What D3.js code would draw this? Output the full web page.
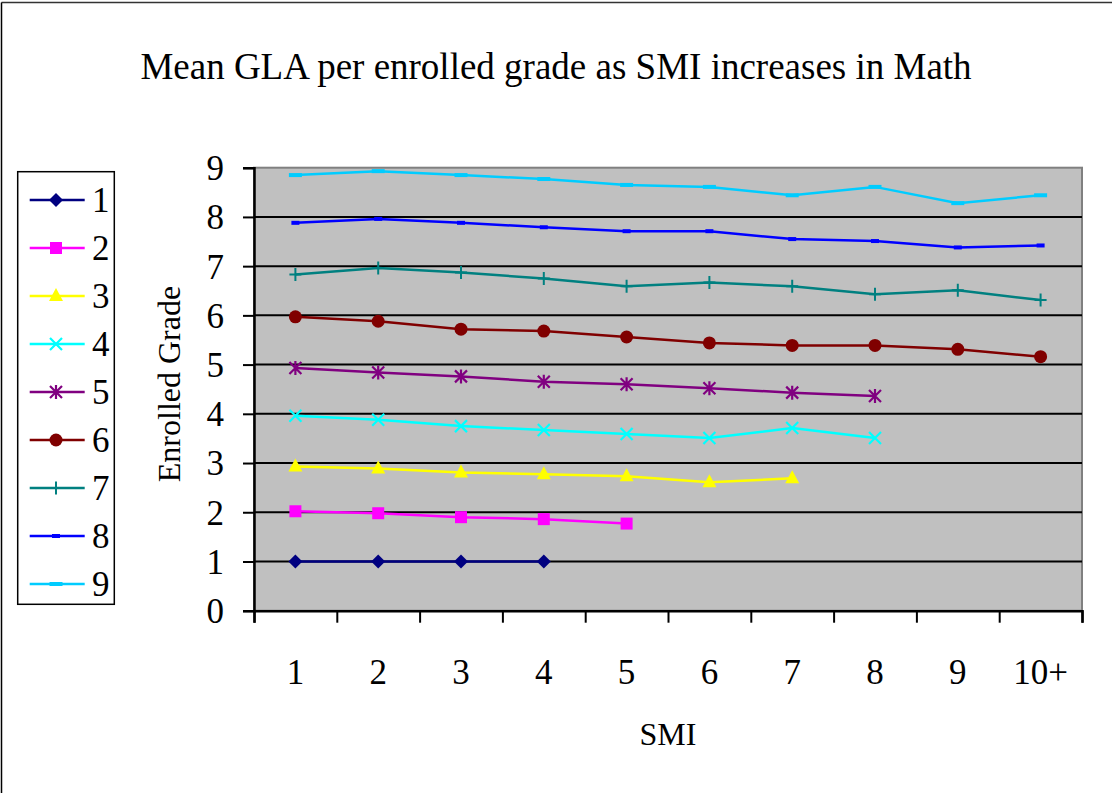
<!DOCTYPE html>
<html>
<head>
<meta charset="utf-8">
<script src="https://cdn.jsdelivr.net/npm/d3@7"></script>
<style>
  body { margin: 0; background: #fff; }
  text { font-family: "Liberation Serif", "Times New Roman", serif; fill: #000; }
</style>
</head>
<body>
<script>
// categories on the x axis (SMI)
var smi = ["1", "2", "3", "4", "5", "6", "7", "8", "9", "10+"];
var yTicks = [0, 1, 2, 3, 4, 5, 6, 7, 8, 9];
var grades = ["1", "2", "3", "4", "5", "6", "7", "8", "9"];

// mean GLA per enrolled grade, one value per SMI (null = no point)
var grade1 = [1.00, 1.00, 1.00, 1.00, null, null, null, null, null, null];
var grade2 = [2.02, 1.98, 1.90, 1.86, 1.77, null, null, null, null, null];
var grade3 = [2.93, 2.89, 2.81, 2.77, 2.73, 2.61, 2.69, null, null, null];
var grade4 = [3.96, 3.88, 3.75, 3.67, 3.59, 3.51, 3.71, 3.51, null, null];
var grade5 = [4.93, 4.84, 4.76, 4.65, 4.60, 4.52, 4.43, 4.36, null, null];
var grade6 = [5.97, 5.88, 5.72, 5.68, 5.56, 5.44, 5.39, 5.39, 5.31, 5.16];
var grade7 = [6.83, 6.96, 6.87, 6.75, 6.59, 6.67, 6.59, 6.43, 6.51, 6.31];
var grade8 = [7.88, 7.96, 7.88, 7.79, 7.71, 7.71, 7.55, 7.51, 7.38, 7.42];
var grade9 = [8.85, 8.93, 8.85, 8.77, 8.65, 8.61, 8.44, 8.61, 8.28, 8.44];

var colors = ["#000080", "#FF00FF", "#FFFF00", "#00FFFF", "#800080", "#800000", "#008080", "#0000FF", "#00CCFF"];
var markers = ["diamond", "square", "triangle", "x", "star", "circle", "plus", "dash", "bar"];

(function drawChart() {

var series = [grade1, grade2, grade3, grade4, grade5, grade6, grade7, grade8, grade9].map(function (vals, i) {
  return { name: grades[i], color: colors[i], marker: markers[i],
    points: vals.map(function (v, j) { return { cat: smi[j], v: v }; }) };
});

var W = 1112, H = 793;
var svg = d3.select("body").append("svg").attr("width", W).attr("height", H);

// chart border: only the top and left edges show in the picture
svg.append("line").attr("x1", 1.5).attr("x2", W).attr("y1", 2.5).attr("y2", 2.5)
  .attr("stroke", "#333").attr("stroke-width", 1.5);
svg.append("line").attr("x1", 1.5).attr("x2", 1.5).attr("y1", 2.5).attr("y2", H)
  .attr("stroke", "#000").attr("stroke-width", 1.5);

var plotLeft = 254, plotRight = 1082, plotTop = 167.7, plotBottom = 610.7;

var x = d3.scaleBand().domain(smi).range([plotLeft, plotRight]);
var xEdge = d3.scaleLinear().domain([0, smi.length]).range([plotLeft, plotRight]);
var y = d3.scaleLinear().domain([0, 9]).range([plotBottom, plotTop]);

// plot area
svg.append("rect").attr("x", plotLeft).attr("y", plotTop)
  .attr("width", plotRight - plotLeft).attr("height", plotBottom - plotTop)
  .attr("fill", "#C0C0C0").attr("stroke", "#808080").attr("stroke-width", 2);

// gridlines
svg.append("g").selectAll("line").data(yTicks.filter(function (d) { return d > 0 && d < 9; }))
  .enter().append("line")
  .attr("x1", plotLeft).attr("x2", plotRight)
  .attr("y1", function (d) { return y(d); }).attr("y2", function (d) { return y(d); })
  .attr("stroke", "#000").attr("stroke-width", 2);

// y axis
var yAxis = svg.append("g").attr("transform", "translate(" + plotLeft + ",0)")
  .call(d3.axisLeft(y).tickValues(yTicks).tickSize(11).tickPadding(19).tickFormat(d3.format("d")));
yAxis.select(".domain").attr("stroke", "#000").attr("stroke-width", 2.5);
yAxis.selectAll(".tick line").attr("stroke", "#000").attr("stroke-width", 2);
yAxis.selectAll("text").attr("font-family", null).attr("font-size", null)
  .style("font-size", "35px").attr("dy", "0.34em");

// x axis: ticks on category edges, labels in the middle
var xTickAxis = svg.append("g").attr("transform", "translate(0," + plotBottom + ")")
  .call(d3.axisBottom(xEdge).ticks(smi.length).tickSize(12).tickFormat(""));
xTickAxis.select(".domain").attr("stroke", "#000").attr("stroke-width", 2.5);
xTickAxis.selectAll(".tick line").attr("stroke", "#000").attr("stroke-width", 2);

var xLabelAxis = svg.append("g").attr("transform", "translate(0," + plotBottom + ")")
  .call(d3.axisBottom(x).tickSize(0).tickPadding(48));
xLabelAxis.select(".domain").remove();
xLabelAxis.selectAll("text").attr("font-family", null).attr("font-size", null)
  .style("font-size", "35px");

// marker drawing
function drawMarker(sel, type, color) {
  if (type === "diamond") {
    sel.append("path").attr("d", "M0,-7L7,0L0,7L-7,0Z").attr("fill", color);
  } else if (type === "square") {
    sel.append("rect").attr("x", -6).attr("y", -6).attr("width", 12).attr("height", 12).attr("fill", color);
  } else if (type === "triangle") {
    sel.append("path").attr("d", "M0,-8L7,5L-7,5Z").attr("fill", color);
  } else if (type === "x") {
    sel.append("path").attr("d", "M-6,-6L6,6M-6,6L6,-6").attr("stroke", color).attr("stroke-width", 2.2).attr("fill", "none");
  } else if (type === "star") {
    sel.append("path").attr("d", "M-6,-6L6,6M-6,6L6,-6M0,-7L0,7").attr("stroke", color).attr("stroke-width", 2.2).attr("fill", "none");
  } else if (type === "circle") {
    sel.append("circle").attr("r", 6.5).attr("fill", color);
  } else if (type === "plus") {
    sel.append("path").attr("d", "M0,-6.5L0,6.5M-6,0L6,0").attr("stroke", color).attr("stroke-width", 2).attr("fill", "none");
  } else if (type === "dash") {
    sel.append("rect").attr("x", -4).attr("y", -2).attr("width", 8).attr("height", 4).attr("fill", color);
  } else if (type === "bar") {
    sel.append("rect").attr("x", -6.5).attr("y", -2).attr("width", 13).attr("height", 4).attr("fill", color);
  }
}

var line = d3.line()
  .defined(function (d) { return d.v !== null; })
  .x(function (d) { return x(d.cat) + x.bandwidth() / 2; })
  .y(function (d) { return y(d.v); });

var sg = svg.append("g").selectAll("g.series").data(series).enter().append("g").attr("class", "series");

sg.append("path")
  .attr("d", function (d) { return line(d.points); })
  .attr("fill", "none")
  .attr("stroke", function (d) { return d.color; })
  .attr("stroke-width", 2.5);

sg.each(function (s) {
  d3.select(this).selectAll("g.pt")
    .data(s.points.filter(function (p) { return p.v !== null; }))
    .enter().append("g").attr("class", "pt")
    .attr("transform", function (p) { return "translate(" + (x(p.cat) + x.bandwidth() / 2) + "," + y(p.v) + ")"; })
    .each(function () { drawMarker(d3.select(this), s.marker, s.color); });
});

// title and axis titles
svg.append("text").attr("x", 556).attr("y", 79).attr("text-anchor", "middle")
  .style("font-size", "37px").text("Mean GLA per enrolled grade as SMI increases in Math");
svg.append("text").attr("x", 668).attr("y", 745).attr("text-anchor", "middle")
  .style("font-size", "32px").text("SMI");
svg.append("text").attr("transform", "translate(180,384) rotate(-90)").attr("text-anchor", "middle")
  .style("font-size", "32px").text("Enrolled Grade");

// legend
var legend = svg.append("g");
legend.append("rect").attr("x", 17.7).attr("y", 171.7).attr("width", 96.6).attr("height", 432.6)
  .attr("fill", "#fff").attr("stroke", "#000").attr("stroke-width", 1.5);
var ly = d3.scaleLinear().domain([0, 8]).range([200, 584]);
var li = legend.selectAll("g.item").data(series).enter().append("g").attr("class", "item")
  .attr("transform", function (d, i) { return "translate(0," + ly(i) + ")"; });
li.append("line").attr("x1", 29.7).attr("x2", 84.7)
  .attr("stroke", function (d) { return d.color; }).attr("stroke-width", 2.5);
li.each(function (s) {
  var m = d3.select(this).append("g").attr("transform", "translate(56,0)");
  drawMarker(m, s.marker, s.color);
});
li.append("text").attr("x", 92).attr("dy", "0.34em").style("font-size", "35px")
  .text(function (d) { return d.name; });

})();
</script>
</body>
</html>
